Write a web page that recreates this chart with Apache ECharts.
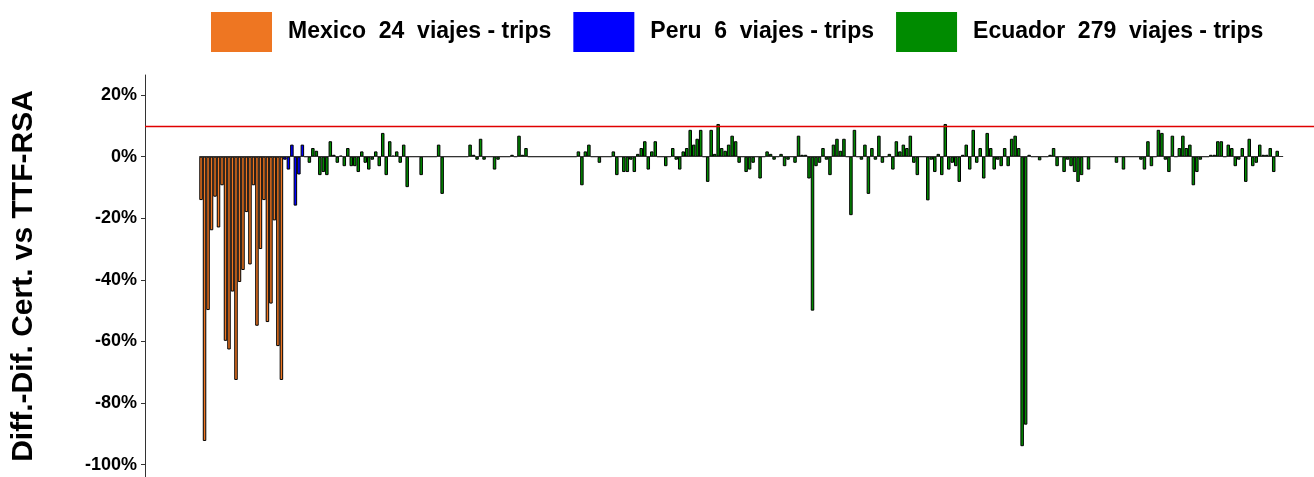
<!DOCTYPE html>
<html>
<head>
<meta charset="utf-8">
<script src="https://cdn.jsdelivr.net/npm/echarts@6/dist/echarts.min.js"></script>
<style>
html,body{margin:0;padding:0;background:#fff;}
#chart{width:1314px;height:477px;}
</style>
</head>
<body>
<div id="chart"></div>
<script>
// ---- data (percent differences per trip) ----
const mexicoValues = [-14.1, -92.3, -49.8, -23.9, -13, -23, -9.3, -59.8, -62.6, -43.8, -72.5, -40.7,
  -36.8, -18, -35, -9.3, -54.9, -30, -14.1, -53.7, -47.7, -20.7, -61.5, -72.5];
const peruValues = [-1, -4.2, 3.9, -15.9, -5.8, 3.9];
const ecuadorValues = [
  0, -2, 2.8, 1.9, -6, -5, -6, 5, 0.6, -2,
  0.3, -3.1, 2.8, -3.1, -3.1, -5, 1.7, -2, -4.2, -1,
  1.7, -3.1, 7.7, -6, 5, 0.3, 1.7, -2, 3.9, -9.9,
  0, 0, 0, -6, 0, 0, 0, 0, 3.9, -12.1,
  0, 0, 0, 0, 0, 0, 0, 3.9, 0.6, -1,
  5.8, -1, 0, 0, -4.2, -1, 0, 0, 0, 0.6,
  0, 6.8, 0.6, 2.8, 0, 0, 0, 0, 0, 0,
  0, 0, 0, 0, 0, 0, 0, 0, 1.7, -9.3,
  1.7, 3.9, 0, 0, -2, 0, 0, 0, 1.7, -6,
  0, -5, -5, -1, -5, 0.9, 2.8, 5, -4.2, 1.7,
  5, 0, 0, -3.1, 0, 2.8, -1, -4.2, 1.7, 2.8,
  8.7, 3.9, 5.8, 8.7, 0, -8.2, 8.7, 0.9, 10.6, 2.8,
  1.9, 3.9, 6.8, 5, -2, 0, -5, -4.2, -2, 0,
  -7.1, 0, 1.7, 0.9, -1, 0, 0.9, -3.1, -1, 0,
  -2, 6.8, 0.6, 0.6, -7.1, -50, -3.1, -2, 2.8, -1,
  -6, 3.9, 5.8, 1.9, 5.8, 0, -19, 8.7, 0, -1,
  3.9, -12.1, 2.8, -1, 6.8, -2, 0, 0.9, -4.2, 5,
  1.7, 3.9, 2.8, 6.8, -2, -6, 0, 0, -14.2, -1,
  -5, 0.9, -6, 10.6, -4.2, -2, -3.1, -8.2, 0.6, 3.9,
  -4.2, 8.7, -2, 2.8, -7.1, 7.7, 2.8, -4.2, -1, -3.1,
  2.8, -3.1, 5.8, 6.8, 2.8, -94, -87, 0.6, 0, 0,
  -1.2, 0, 0, 0.6, 2.8, -3.1, 0, -5, -1, -3.1,
  -5, -8.2, -6, 0, -4.2, 0, 0, 0, 0, 0,
  0, 0, -2, 0, -4.2, 0, 0, 0, 0, -1,
  -4.2, 5, -3.1, 0, 8.7, 7.7, -1, -5, 6.8, 0,
  2.8, 6.8, 2.8, 3.9, -9.3, -5, -1, 0, 0, 0.6,
  0.6, 5, 5, 0, 3.9, 2.8, -3.1, -1, 2.8, -8.2,
  5.8, -3.1, -2, 3.9, 0.6, 0.6, 2.8, -5, 1.9
];
const seriesNames = ['Mexico  24  viajes - trips', 'Peru  6  viajes - trips', 'Ecuador  279  viajes - trips'];
const yTickValues = [-100, -80, -60, -40, -20, 0, 20];
const referenceLine = 10;

// ---- build ----
const groups = [mexicoValues, peruValues, ecuadorValues];
const colors = ['#EE7622', '#0000FF', '#008B00'];
let offset = 0;
const seriesData = groups.map(vals => {
  const d = vals.map((v, i) => [offset + i, v]);
  offset += vals.length;
  return d;
});
const total = offset;

const font = "'Liberation Sans', Arial, sans-serif";
const chart = echarts.init(document.getElementById('chart'), null, {renderer: 'canvas'});
const series = seriesData.map((d, si) => ({
  name: seriesNames[si],
  type: 'bar',
  data: d,
  barWidth: 3.5,
  barGap: '-100%',
  itemStyle: {color: colors[si], borderColor: '#000', borderWidth: 1},
  silent: true
}));
series[2].markLine = {
  silent: true,
  symbol: 'none',
  label: {show: false},
  data: [
    [{coord: [-0.5, 0]}, {coord: [total + 0.7, 0]}]
  ],
  lineStyle: {color: '#333', width: 1.2, type: 'solid'}
};
series[0].markLine = {
  silent: true,
  symbol: 'none',
  label: {show: false},
  data: [{yAxis: referenceLine}],
  lineStyle: {color: '#E00000', width: 1.3, type: 'solid'}
};

chart.setOption({
  animation: false,
  backgroundColor: '#fff',
  grid: {left: 145, right: 0, top: 75, bottom: 0, containLabel: false},
  legend: {
    left: 211, top: 12,
    padding: 0,
    icon: 'rect',
    itemWidth: 61, itemHeight: 40,
    itemGap: 22,
    data: seriesNames,
    selectedMode: false,
    itemStyle: {borderWidth: 0},
    textStyle: {fontFamily: font, fontSize: 23, fontWeight: 'bold', color: '#000', padding: [3, 0, 0, 11]}
  },
  xAxis: {
    type: 'value',
    min: -16.04, max: 318.53,
    show: false
  },
  yAxis: {
    type: 'value',
    min: -104, max: 26.5,
    name: 'Diff.-Dif. Cert. vs TTF-RSA',
    nameLocation: 'middle',
    nameRotate: 90,
    nameGap: 106,
    nameTextStyle: {fontFamily: font, fontSize: 30, fontWeight: 'bold', color: '#000'},
    axisLine: {show: true, onZero: false, lineStyle: {color: '#333', width: 1}},
    axisTick: {show: true, length: 4, lineStyle: {color: '#333'}, customValues: yTickValues},
    axisLabel: {
      fontFamily: font, fontSize: 18, fontWeight: 'bold', color: '#000', margin: 8,
      customValues: yTickValues,
      formatter: v => v + '%'
    },
    splitLine: {show: false}
  },
  series: series
});
</script>
</body>
</html>
